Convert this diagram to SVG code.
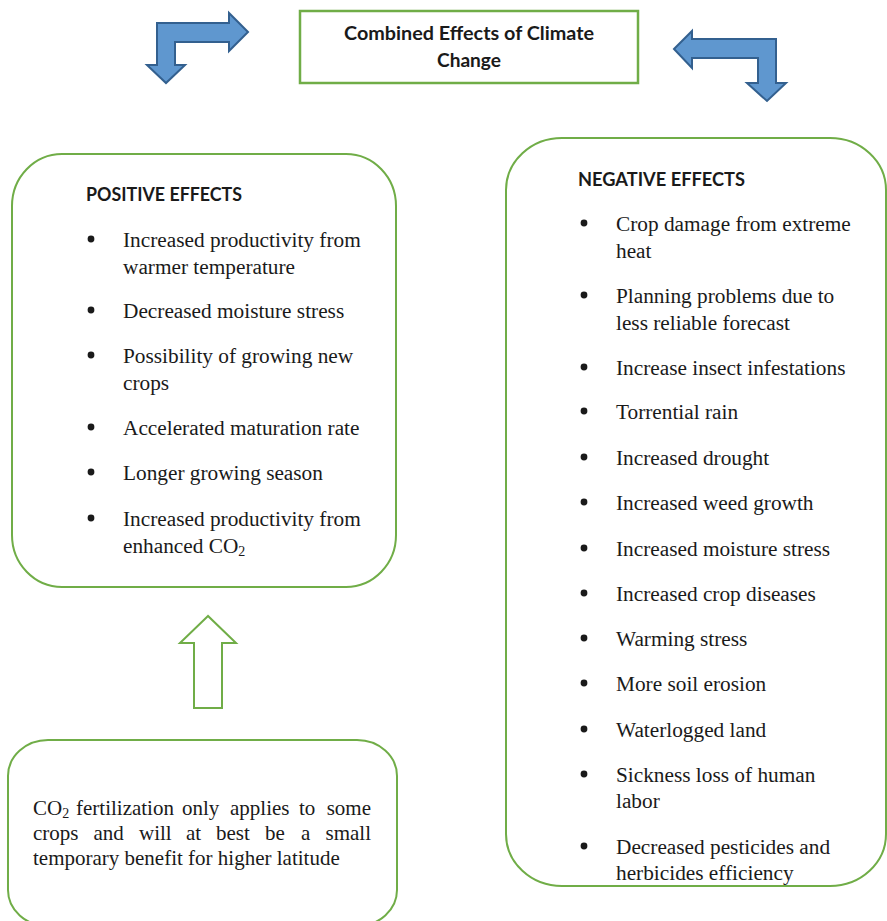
<svg xmlns="http://www.w3.org/2000/svg" width="887" height="921" viewBox="0 0 887 921">
  <style>
    .box { fill: #ffffff; stroke: #70ad47; stroke-width: 2; }
    .bent { fill: #5f97cf; stroke: #33608f; stroke-width: 2; stroke-linejoin: miter; }
    .hollow { fill: #ffffff; stroke: #70ad47; stroke-width: 2; }
    .head { font-family: Lato, "Open Sans", "Liberation Sans", sans-serif; font-weight: bold; fill: #1a1a1a; }
    .body { font-family: "Liberation Serif", "Times New Roman", serif; font-size: 21.3px; fill: #1a1a1a; }
    .note { font-size: 21px; }
    .sub { font-size: 14px; }
    .dot { fill: #1a1a1a; }
  </style>
  <rect width="887" height="921" fill="#ffffff"/>

  <!-- arrows linking the panels -->
  <g id="connectors">
    <polygon class="bent" points="248,32 229,13 229,23 157,23 157,65 147,65 166,83 185,65 175,65 175,42 229,42 229,51"/>
    <polygon class="bent" points="674,49 692,31 692,39 776,39 776,83 786,83 767,101 747,83 758,83 758,58 692,58 692,68"/>
    <polygon class="hollow" points="208,616 180,643 194,643 194,708 222,708 222,643 236,643"/>
  </g>

  <!-- title -->
  <g id="title">
    <rect x="300" y="11" width="338" height="72" fill="#ffffff" stroke="#70ad47" stroke-width="2.5"/>
    <text class="head" x="469" y="40" font-size="18" text-anchor="middle" textLength="250" lengthAdjust="spacingAndGlyphs">Combined Effects of Climate</text>
    <text class="head" x="469" y="67" font-size="18" text-anchor="middle" textLength="64" lengthAdjust="spacingAndGlyphs">Change</text>
  </g>

  <!-- positive effects panel -->
  <g id="positive">
    <rect class="box" x="12" y="154" width="384" height="433" rx="50" ry="52"/>
    <text class="head" x="86" y="201" font-size="19" textLength="156" lengthAdjust="spacingAndGlyphs">POSITIVE EFFECTS</text>
    <g class="dot">
      <circle cx="91" cy="239" r="3.4"/>
      <circle cx="91" cy="310" r="3.4"/>
      <circle cx="91" cy="355" r="3.4"/>
      <circle cx="91" cy="427" r="3.4"/>
      <circle cx="91" cy="472" r="3.4"/>
      <circle cx="91" cy="518" r="3.4"/>
    </g>
    <g class="body">
      <text x="123" y="247">Increased productivity from</text>
      <text x="123" y="274">warmer temperature</text>
      <text x="123" y="318">Decreased moisture stress</text>
      <text x="123" y="363">Possibility of growing new</text>
      <text x="123" y="390">crops</text>
      <text x="123" y="435">Accelerated maturation rate</text>
      <text x="123" y="480">Longer growing season</text>
      <text x="123" y="526">Increased productivity from</text>
      <text x="123" y="553">enhanced CO<tspan class="sub" dy="3">2</tspan></text>
    </g>
  </g>

  <!-- negative effects panel -->
  <g id="negative">
    <rect class="box" x="506" y="138" width="380" height="748" rx="56" ry="52"/>
    <text class="head" x="578" y="186" font-size="19" textLength="167" lengthAdjust="spacingAndGlyphs">NEGATIVE EFFECTS</text>
    <g class="dot">
      <circle cx="584" cy="223" r="3.4"/>
      <circle cx="584" cy="295" r="3.4"/>
      <circle cx="584" cy="367" r="3.4"/>
      <circle cx="584" cy="411" r="3.4"/>
      <circle cx="584" cy="457" r="3.4"/>
      <circle cx="584" cy="502" r="3.4"/>
      <circle cx="584" cy="548" r="3.4"/>
      <circle cx="584" cy="593" r="3.4"/>
      <circle cx="584" cy="638" r="3.4"/>
      <circle cx="584" cy="683" r="3.4"/>
      <circle cx="584" cy="729" r="3.4"/>
      <circle cx="584" cy="774" r="3.4"/>
      <circle cx="584" cy="846" r="3.4"/>
    </g>
    <g class="body">
      <text x="616" y="231">Crop damage from extreme</text>
      <text x="616" y="258">heat</text>
      <text x="616" y="303">Planning problems due to</text>
      <text x="616" y="330">less reliable forecast</text>
      <text x="616" y="375">Increase insect infestations</text>
      <text x="616" y="419">Torrential rain</text>
      <text x="616" y="465">Increased drought</text>
      <text x="616" y="510">Increased weed growth</text>
      <text x="616" y="556">Increased moisture stress</text>
      <text x="616" y="601">Increased crop diseases</text>
      <text x="616" y="646">Warming stress</text>
      <text x="616" y="691">More soil erosion</text>
      <text x="616" y="737">Waterlogged land</text>
      <text x="616" y="782">Sickness loss of human</text>
      <text x="616" y="808">labor</text>
      <text x="616" y="854">Decreased pesticides and</text>
      <text x="616" y="880">herbicides efficiency</text>
    </g>
  </g>

  <!-- CO2 fertilization note, justified text -->
  <g id="note">
    <rect class="box" x="8" y="740" width="389" height="186" rx="40" ry="36"/>
    <g class="body note">
      <text y="815"><tspan x="33">CO</tspan><tspan class="sub" dy="3">2</tspan><tspan x="76" dy="-3">fertilization</tspan><tspan x="182">only</tspan><tspan x="230">applies</tspan><tspan x="299">to</tspan><tspan x="371" text-anchor="end">some</tspan></text>
      <text y="840"><tspan x="33">crops</tspan><tspan x="93.5">and</tspan><tspan x="139">will</tspan><tspan x="186">at</tspan><tspan x="216">best</tspan><tspan x="265">be</tspan><tspan x="301">a</tspan><tspan x="371" text-anchor="end">small</tspan></text>
      <text x="33" y="865">temporary benefit for higher latitude</text>
    </g>
  </g>
</svg>
